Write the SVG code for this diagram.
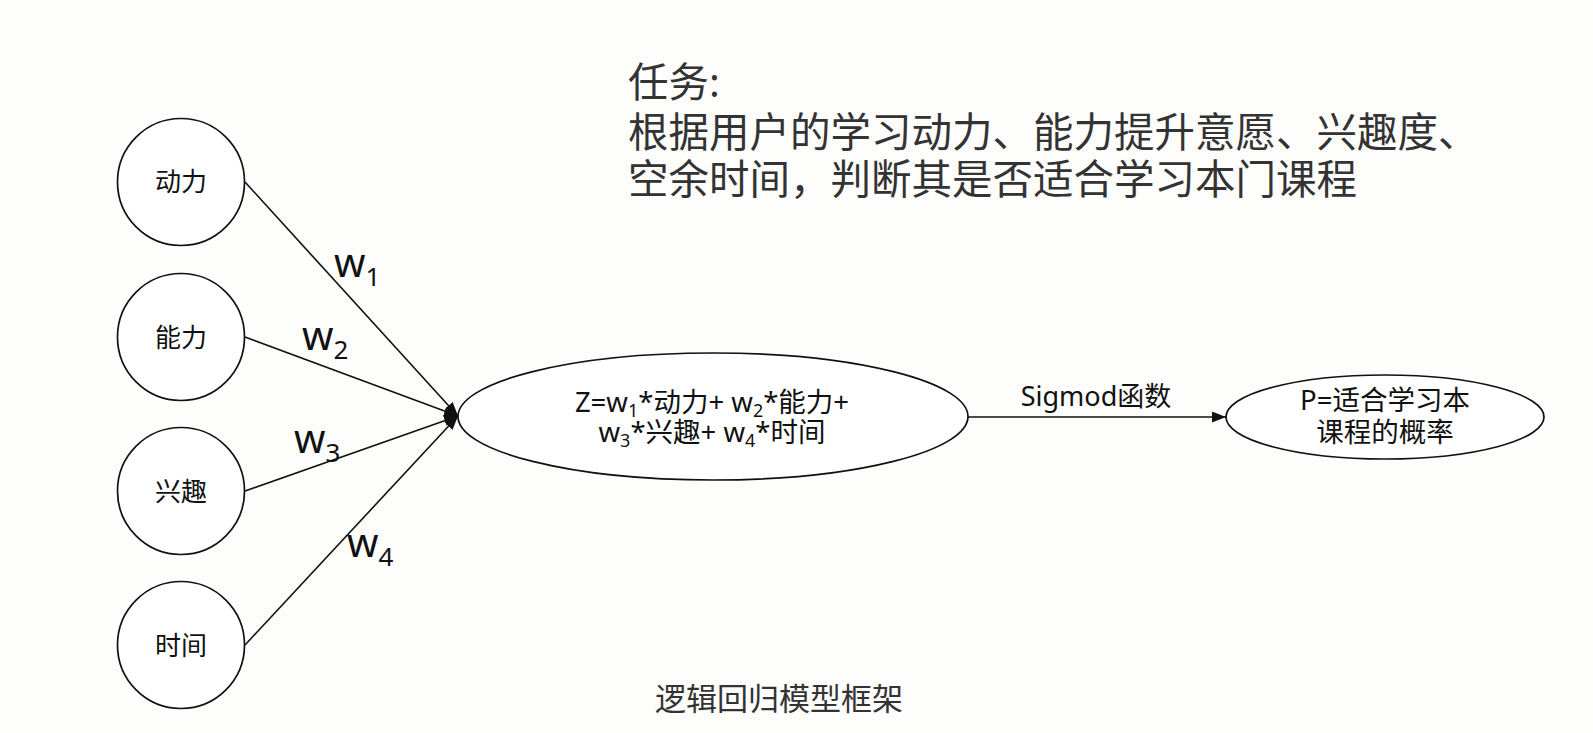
<svg xmlns="http://www.w3.org/2000/svg" width="1593" height="733" viewBox="0 0 1593 733">
<style>
text{font-family:"Noto Sans","Noto Sans CJK SC",sans-serif;fill:#111}
.node{fill:#fff;stroke:#111;stroke-width:1.7}
.edge{stroke:#111;stroke-width:1.6;fill:none}
.lbl{font-size:26px;text-anchor:middle}
.f{font-size:27.5px;text-anchor:middle}
.w{font-size:40px}
.sub{font-size:26px;baseline-shift:-9px}
.ts{font-size:18px;baseline-shift:-5px}
.title{font-size:40.5px;fill:#333}
.cap{font-size:31px;fill:#333;text-anchor:middle}
</style>
<defs>
<marker id="arr" markerUnits="userSpaceOnUse" markerWidth="14" markerHeight="11" refX="14" refY="5.5" orient="auto">
<path d="M0,0 L14,5.5 L0,11 z" fill="#111"/>
</marker>
</defs>
<rect width="1593" height="733" fill="#fdfdfc"/>
<g id="task">
<text class="title" x="628" y="97">任务:</text>
<text class="title" x="628" y="147">根据用户的学习动力、能力提升意愿、兴趣度、</text>
<text class="title" x="628" y="194">空余时间，判断其是否适合学习本门课程</text>
</g>
<g id="connectors">
<line class="edge" x1="245" y1="182" x2="458" y2="416" marker-end="url(#arr)"/>
<line class="edge" x1="245" y1="337" x2="458" y2="416" marker-end="url(#arr)"/>
<line class="edge" x1="245" y1="491" x2="458" y2="416" marker-end="url(#arr)"/>
<line class="edge" x1="245" y1="645" x2="458" y2="416" marker-end="url(#arr)"/>
<line class="edge" x1="968" y1="417" x2="1226" y2="417" marker-end="url(#arr)"/>
<text class="w" x="334" y="277">w<tspan class="sub">1</tspan></text>
<text class="w" x="302" y="350">w<tspan class="sub">2</tspan></text>
<text class="w" x="294" y="453">w<tspan class="sub">3</tspan></text>
<text class="w" x="347" y="557">w<tspan class="sub">4</tspan></text>
<text x="1096" y="406" style="font-size:27px;text-anchor:middle">Sigmod函数</text>
</g>
<g id="n1"><circle class="node" cx="181" cy="182" r="63.5"/><text class="lbl" x="181" y="191">动力</text></g>
<g id="n2"><circle class="node" cx="181" cy="337" r="63.5"/><text class="lbl" x="181" y="347">能力</text></g>
<g id="n3"><circle class="node" cx="181" cy="491" r="63.5"/><text class="lbl" x="181" y="501">兴趣</text></g>
<g id="n4"><circle class="node" cx="181" cy="645" r="63.5"/><text class="lbl" x="181" y="655">时间</text></g>
<g id="z">
<ellipse class="node" cx="713" cy="416.5" rx="255" ry="63.5"/>
<text class="f" x="712" y="412">Z=w<tspan class="ts">1</tspan>*动力+ w<tspan class="ts">2</tspan>*能力+</text>
<text class="f" x="712" y="442">w<tspan class="ts">3</tspan>*兴趣+ w<tspan class="ts">4</tspan>*时间</text>
</g>
<g id="p">
<ellipse class="node" cx="1385" cy="417" rx="159" ry="42"/>
<text class="f" x="1385" y="410">P=适合学习本</text>
<text class="f" x="1385" y="442">课程的概率</text>
</g>
<g id="caption"><text class="cap" x="779" y="710">逻辑回归模型框架</text></g>
</svg>
